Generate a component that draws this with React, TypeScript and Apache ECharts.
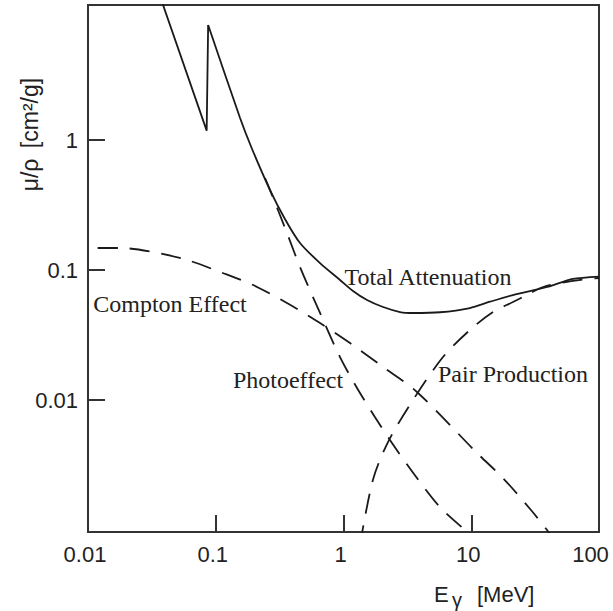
import React, { useEffect, useRef } from 'react';
import * as echarts from 'echarts';

// ---- data (photon energy in MeV, mass attenuation coefficient in cm^2/g) ----
// first three points: absorption-edge part (straight), from index 2 on: smooth part
const totalE = [0.035, 0.0849, 0.0872, 0.155, 0.191, 0.266, 0.348, 0.4566, 0.655, 0.939, 1.187, 1.528, 2.04, 2.77, 3.5, 5.69, 9.77, 14.0, 21.2, 39.2, 62.6, 100];
const totalMu = [14.5, 1.18, 7.67, 1.476, 0.868, 0.412, 0.247, 0.1614, 0.113, 0.0838, 0.069, 0.0588, 0.0519, 0.0475, 0.0467, 0.0473, 0.051, 0.057, 0.0642, 0.074, 0.0853, 0.089];

const comptonE = [0.0119, 0.0178, 0.0323, 0.0596, 0.108, 0.196, 0.361, 0.655, 1.125, 2.04, 3.76, 11.1, 17.7, 28.9, 39.2, 41.4];
const comptonMu = [0.1477, 0.1477, 0.1375, 0.1194, 0.0966, 0.0767, 0.0557, 0.0391, 0.0274, 0.01794, 0.01152, 0.00391, 0.00251, 0.00145, 0.001, 0.000916];

const photoE = [0.243, 0.266, 0.361, 0.4566, 0.655, 0.939, 1.346, 2.31, 3.76, 5.69, 9.26, 10.7];
const photoMu = [0.51, 0.412, 0.1927, 0.1055, 0.0467, 0.0214, 0.01132, 0.00492, 0.00251, 0.0015, 0.000966, 0.000837];

const pairE = [1.346, 1.7, 2.23, 3.5, 6.01, 9.77, 14.8, 21.2, 27.3, 36.5, 62.6, 100];
const pairMu = [0.000767, 0.00243, 0.00475, 0.01, 0.0214, 0.0346, 0.0475, 0.0567, 0.0642, 0.074, 0.0824, 0.0868];

const xTickValues = [0.1, 1, 10];
const xLabelValues = [0.01, 0.1, 1, 10, 100];
const yTickValues = [0.01, 0.1, 1];
const yLabelValues = [0.01, 0.1, 1];

const labelTotal = 'Total Attenuation';
const labelCompton = 'Compton Effect';
const labelPhoto = 'Photoeffect';
const labelPair = 'Pair Production';
const yTitleQty = 'μ/ρ';
const yTitleUnit = '[cm²/g]';
const xTitleMain = 'E';
const xTitleSub = 'γ';
const xTitleUnit = '[MeV]';

const zip = (xs: number[], ys: number[]) => xs.map((x, i) => [x, ys[i]]);

const SANS = '"Liberation Sans", Arial, Helvetica, sans-serif';
const SERIF = '"Liberation Serif", "Times New Roman", serif';
const INK = '#222';

const fmt = (v: number) => String(parseFloat(Number(v).toPrecision(3)));

export default function App() {
  const ref = useRef<HTMLDivElement>(null);
  useEffect(() => {
    if (!ref.current) return;
    const chart = echarts.init(ref.current, undefined, { renderer: 'svg' });
    const dashed = [20, 12];
    const lineBase = { type: 'line', showSymbol: false, symbol: 'none' };
    const option: any = {
      animation: false,
      backgroundColor: '#fff',
      grid: {
        left: 88, top: 5, width: 511, height: 527,
        show: true, borderColor: '#333', borderWidth: 2,
        containLabel: false, outerBoundsMode: 'none',
      },
      xAxis: {
        type: 'log', logBase: 10, min: 0.01, max: 100,
        axisLine: { show: false },
        splitLine: { show: false },
        minorTick: { show: false },
        axisTick: { show: true, inside: true, length: 17, customValues: xTickValues, lineStyle: { color: '#333', width: 2 } },
        axisLabel: {
          customValues: xLabelValues,
          margin: 11,
          formatter: (v: number) => (fmt(v) === '100' ? '{e|100}' : `{n|${fmt(v)}}`),
          rich: {
            n: { fontSize: 22, fontFamily: SANS, color: INK, padding: [0, 6, 0, 0] },
            e: { fontSize: 22, fontFamily: SANS, color: INK, padding: [0, 17, 0, 0] },
          },
        },
      },
      yAxis: {
        type: 'log', logBase: 10,
        min: Math.pow(10, -2 - 132 / 130), max: Math.pow(10, 135 / 130),
        axisLine: { show: false },
        splitLine: { show: false },
        minorTick: { show: false },
        axisTick: { show: true, inside: true, length: 17, customValues: yTickValues, lineStyle: { color: '#333', width: 2 } },
        axisLabel: {
          customValues: yLabelValues,
          margin: 10,
          fontSize: 22, fontFamily: SANS, color: INK,
          formatter: (v: number) => fmt(v),
        },
      },
      series: [
        { ...lineBase, name: 'Total (edge)', data: zip(totalE, totalMu).slice(0, 3), smooth: false, lineStyle: { color: '#1a1a1a', width: 1.8 }, z: 3 },
        { ...lineBase, name: 'Total', data: zip(totalE, totalMu).slice(2), smooth: 0.25, lineStyle: { color: '#1a1a1a', width: 1.8 }, z: 3 },
        { ...lineBase, name: 'Compton', data: zip(comptonE, comptonMu), smooth: 0.3, lineStyle: { color: '#1a1a1a', width: 1.8, type: dashed } },
        { ...lineBase, name: 'Photo', data: zip(photoE, photoMu), smooth: 0.3, lineStyle: { color: '#1a1a1a', width: 1.8, type: dashed } },
        { ...lineBase, name: 'Pair', data: zip(pairE, pairMu), smooth: 0.3, lineStyle: { color: '#1a1a1a', width: 1.8, type: dashed } },
      ],
      graphic: [
        { type: 'text', z: 100, x: 428, y: 277, style: { text: labelTotal, font: `24px ${SERIF}`, fill: INK, align: 'center', verticalAlign: 'middle' } },
        { type: 'text', z: 100, x: 170, y: 304, style: { text: labelCompton, font: `24px ${SERIF}`, fill: INK, align: 'center', verticalAlign: 'middle' } },
        { type: 'text', z: 100, x: 288, y: 380, style: { text: labelPhoto, font: `24px ${SERIF}`, fill: INK, align: 'center', verticalAlign: 'middle' } },
        { type: 'text', z: 100, x: 513, y: 374, style: { text: labelPair, font: `24px ${SERIF}`, fill: INK, align: 'center', verticalAlign: 'middle' } },
        { type: 'text', z: 100, x: 30, y: 175, rotation: Math.PI / 2, style: { text: yTitleQty, font: `23px ${SANS}`, fill: INK, align: 'center', verticalAlign: 'middle' } },
        { type: 'text', z: 100, x: 30, y: 113, rotation: Math.PI / 2, style: { text: yTitleUnit, font: `23px ${SANS}`, fill: INK, align: 'center', verticalAlign: 'middle' } },
        { type: 'text', z: 100, x: 434, y: 594, style: { text: xTitleMain, font: `22px ${SANS}`, fill: INK, align: 'left', verticalAlign: 'middle' } },
        { type: 'text', z: 100, x: 452, y: 600, style: { text: xTitleSub, font: `20px ${SANS}`, fill: INK, align: 'left', verticalAlign: 'middle' } },
        { type: 'text', z: 100, x: 477, y: 594, style: { text: xTitleUnit, font: `22px ${SANS}`, fill: INK, align: 'left', verticalAlign: 'middle' } },
      ],
    };
    chart.setOption(option);
    return () => chart.dispose();
  }, []);
  return <div ref={ref} style={{ position: 'fixed', left: 0, top: 0, width: 613, height: 611, background: '#fff' }} />;
}
